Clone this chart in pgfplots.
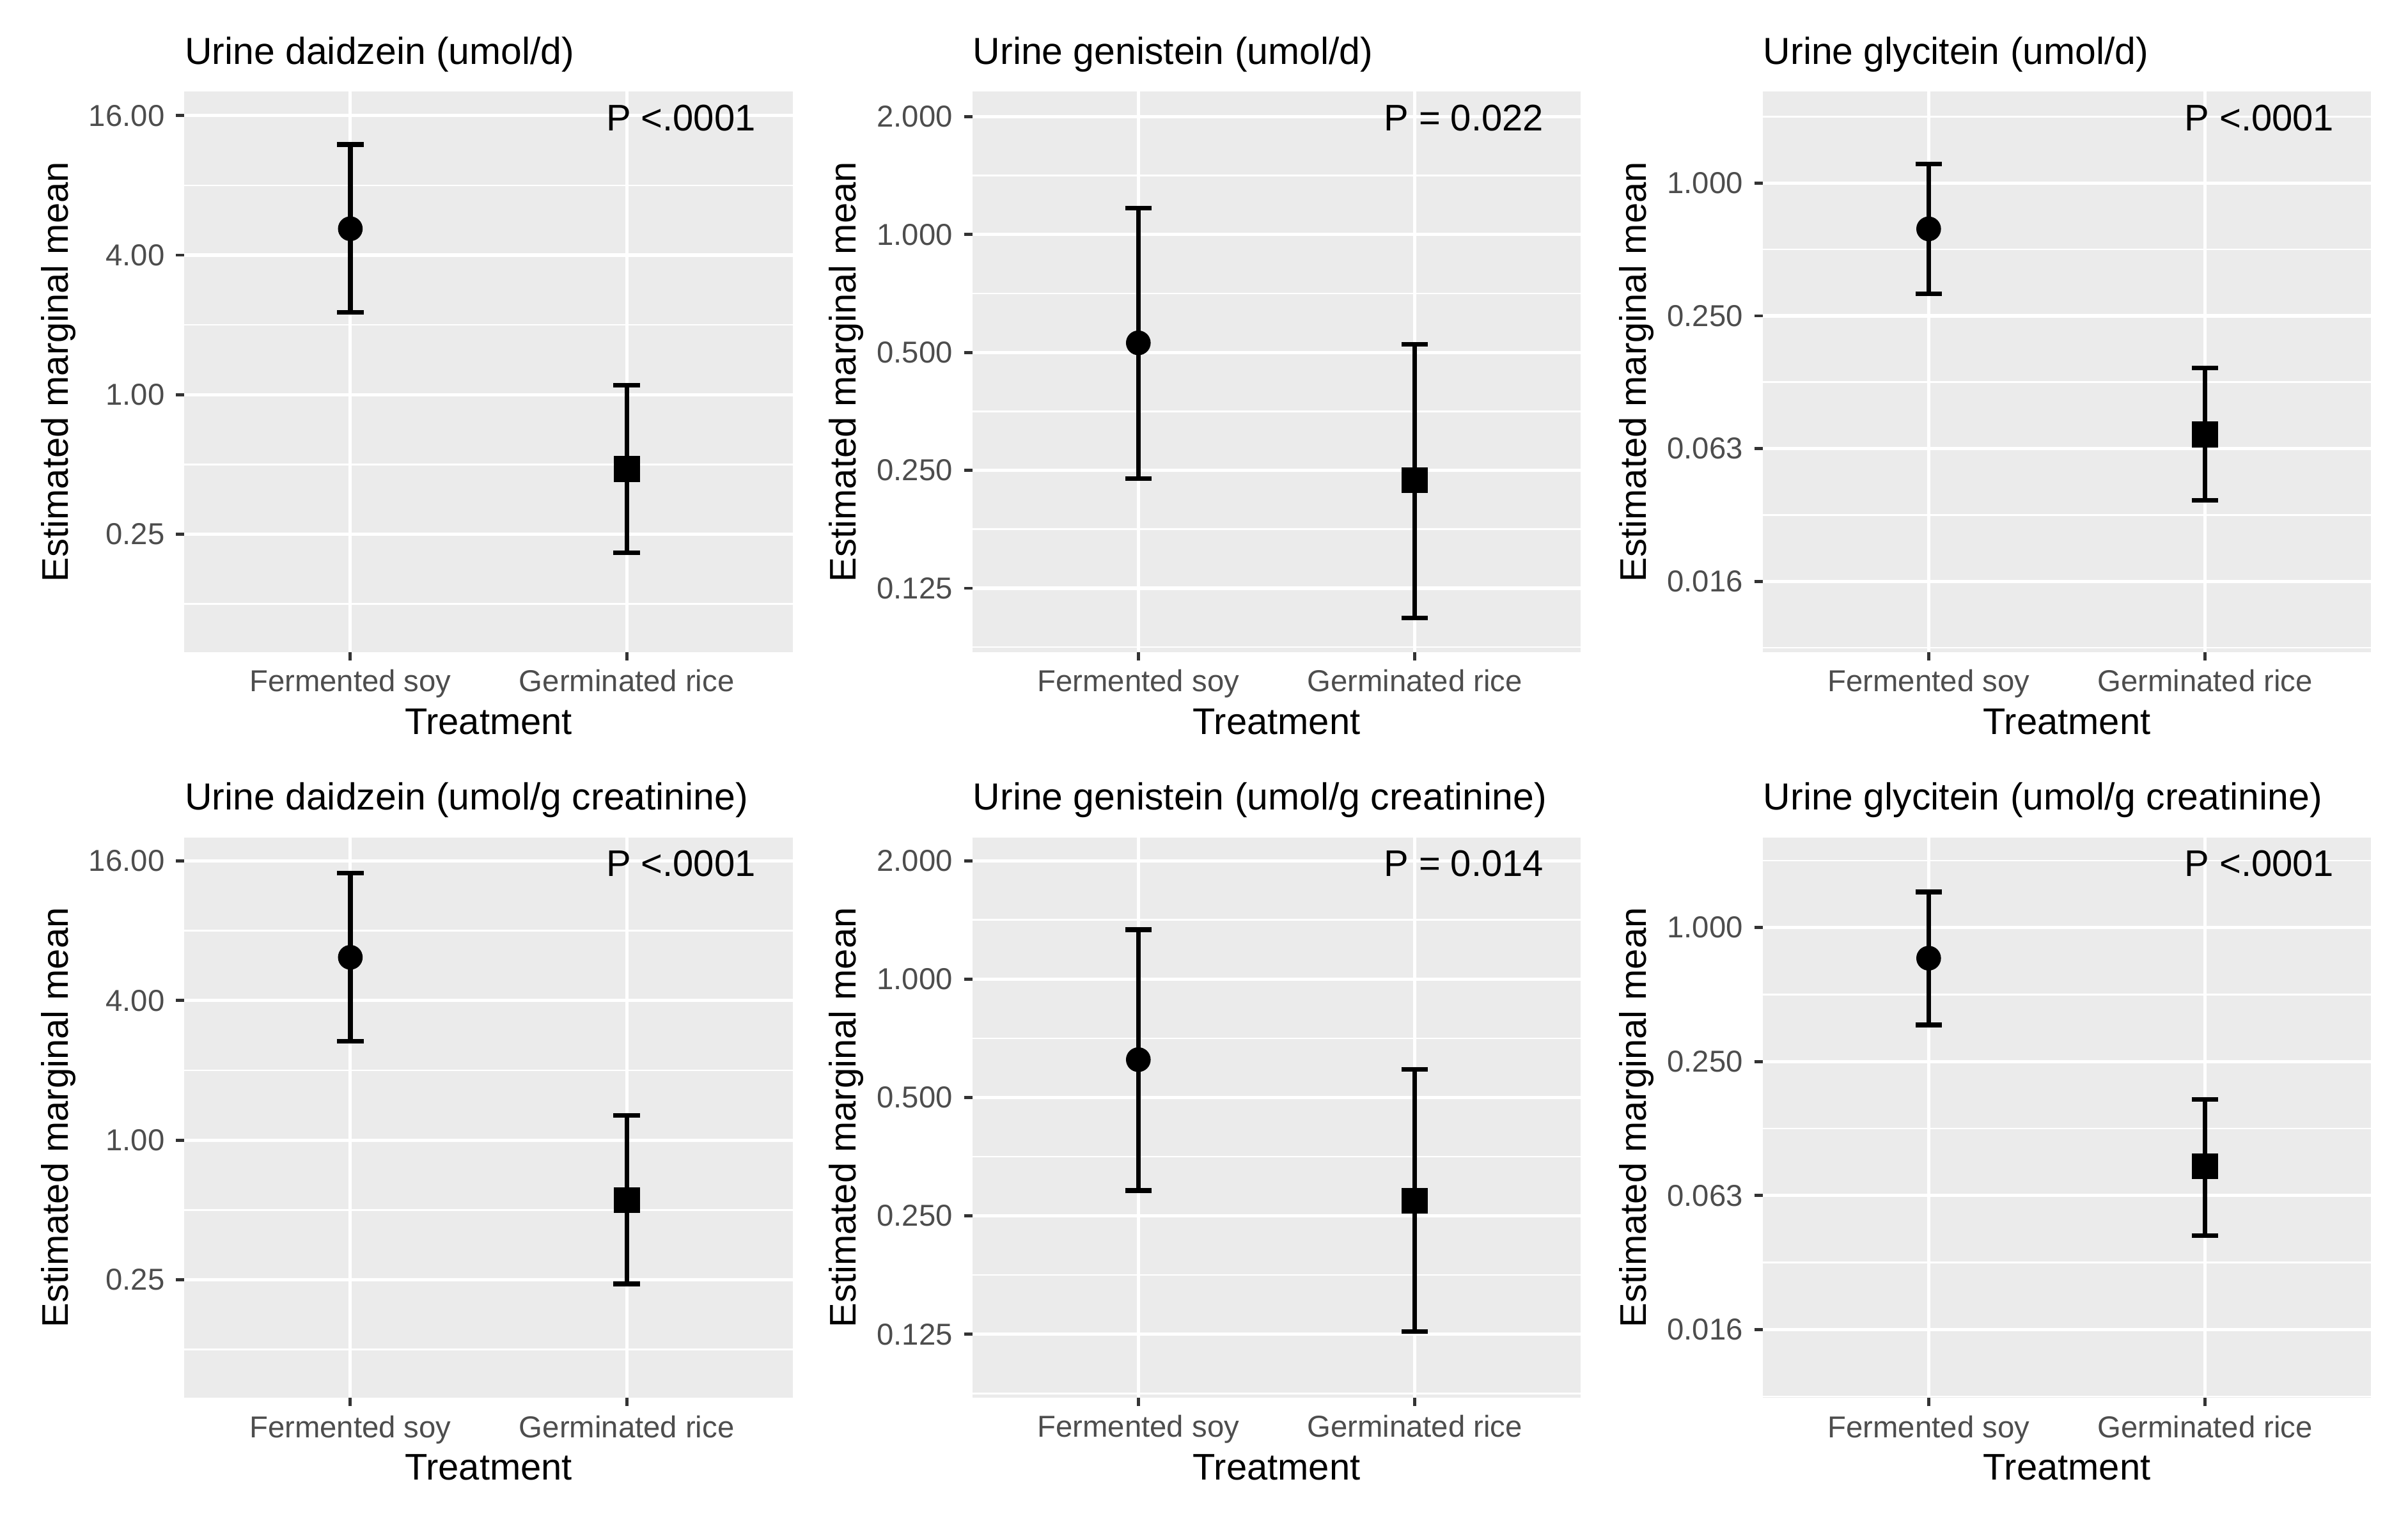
\documentclass[border=0pt]{standalone}
\usepackage{fontspec}
\setmainfont{Liberation Sans}
\usepackage{pgfplots}
\pgfplotsset{compat=1.18}

\definecolor{gg92}{HTML}{EBEBEB}
\definecolor{gg30}{HTML}{4D4D4D}
\definecolor{gg20}{HTML}{333333}

% ggplot-like panel
\pgfplotsset{
  ggpanel/.style={
    scale only axis, width=197pt, height=181.5pt,
    anchor=south west,
    xmin=0.4, xmax=2.6,
    xtick={1,2}, xticklabels={Fermented soy, Germinated rice},
    axis background/.style={fill=gg92},
    axis line style={draw=none},
    tick pos=left, tick align=outside,
    major tick length=2.75pt,
    tick style={gg20, line width=1pt},
    xmajorgrids=true, ymajorgrids=true,
    major grid style={white, line width=1.07pt},
    extra y tick labels={},
    extra y tick style={major tick length=0pt,
      major grid style={white, line width=0.53pt}},
    ticklabel style={font=\fontsize{9.8}{11}\selectfont, text=gg30, inner sep=0pt},
    xticklabel style={anchor=north, yshift=-2.8pt},
    yticklabel style={anchor=east, xshift=-3.5pt},
    xlabel={Treatment}, ylabel={Estimated marginal mean},
    every axis x label/.style={at={(axis description cs:0.5,-0.1245)}, anchor=center,
      font=\fontsize{12}{14}\selectfont},
    every axis y label/.style={at={(axis description cs:-0.2076,0.5)}, rotate=90, anchor=center,
      font=\fontsize{12}{14}\selectfont},
    every axis title/.style={at={(axis description cs:0,1.049)}, anchor=base west, inner sep=0pt,
      font=\fontsize{12.2}{14}\selectfont},
    clip=false,
  },
  ebar/.style={black, line width=1.5pt, mark=none},
  soy/.style={black, only marks, mark=*, mark size=3.8pt},
  rice/.style={black, only marks, mark=square*, mark size=4pt},
}
% interval: left cap x, x, right cap x, lower, upper
\newcommand{\ci}[5]{%
  \addplot[ebar] coordinates {(#2,#4) (#2,#5)};
  \addplot[ebar] coordinates {(#1,#4) (#3,#4)};
  \addplot[ebar] coordinates {(#1,#5) (#3,#5)};}
\newcommand{\pval}[1]{\node[anchor=east, inner sep=0pt, font=\fontsize{12}{14}\selectfont]
  at (rel axis cs:0.94,0.953) {#1};}

\begin{document}
\begin{tikzpicture}
\fill[white] (0,0) rectangle (780pt,491pt);

% ---- row 1: umol/d ----
\begin{axis}[ggpanel, ymode=log, at={(59.75pt,279.8pt)},
  title={Urine daidzein (umol/d)},
  ymin=0.0775, ymax=20.3,
  ytick={0.25,1,4,16}, yticklabels={0.25,1.00,4.00,16.00},
  extra y ticks={0.125,0.5,2,8}]
  \ci{0.952}{1}{1.048}{2.27}{12.0}
  \ci{1.952}{2}{2.048}{0.208}{1.10}
  \addplot[soy] coordinates {(1,5.2)};
  \addplot[rice] coordinates {(2,0.477)};
  \pval{P <.0001}
\end{axis}

\begin{axis}[ggpanel, ymode=log, at={(315pt,279.8pt)},
  title={Urine genistein (umol/d)},
  ymin=0.0859, ymax=2.317,
  ytick={0.125,0.25,0.5,1,2}, yticklabels={0.125,0.250,0.500,1.000,2.000},
  extra y ticks={0.0884,0.1768,0.3536,0.7071,1.4142}]
  \ci{0.952}{1}{1.048}{0.238}{1.168}
  \ci{1.952}{2}{2.048}{0.105}{0.525}
  \addplot[soy] coordinates {(1,0.529)};
  \addplot[rice] coordinates {(2,0.236)};
  \pval{P = 0.022}
\end{axis}

\begin{axis}[ggpanel, ymode=log, at={(571pt,279.8pt)},
  title={Urine glycitein (umol/d)},
  ymin=0.00747, ymax=2.597,
  ytick={0.015625,0.0625,0.25,1}, yticklabels={0.016,0.063,0.250,1.000},
  extra y ticks={0.0078125,0.03125,0.125,0.5,2}]
  \ci{0.952}{1}{1.048}{0.315}{1.22}
  \ci{1.952}{2}{2.048}{0.0364}{0.145}
  \addplot[soy] coordinates {(1,0.620)};
  \addplot[rice] coordinates {(2,0.0723)};
  \pval{P <.0001}
\end{axis}

% ---- row 2: umol/g creatinine ----
\begin{axis}[ggpanel, ymode=log, at={(59.75pt,38.25pt)},
  title={Urine daidzein (umol/g creatinine)},
  ymin=0.0775, ymax=20.2,
  ytick={0.25,1,4,16}, yticklabels={0.25,1.00,4.00,16.00},
  extra y ticks={0.125,0.5,2,8}]
  \ci{0.952}{1}{1.048}{2.67}{14.2}
  \ci{1.952}{2}{2.048}{0.240}{1.28}
  \addplot[soy] coordinates {(1,6.14)};
  \addplot[rice] coordinates {(2,0.551)};
  \pval{P <.0001}
\end{axis}

\begin{axis}[ggpanel, ymode=log, at={(315pt,38.25pt)},
  title={Urine genistein (umol/g creatinine)},
  ymin=0.0862, ymax=2.293,
  ytick={0.125,0.25,0.5,1,2}, yticklabels={0.125,0.250,0.500,1.000,2.000},
  extra y ticks={0.0884,0.1768,0.3536,0.7071,1.4142}]
  \ci{0.952}{1}{1.048}{0.290}{1.336}
  \ci{1.952}{2}{2.048}{0.127}{0.590}
  \addplot[soy] coordinates {(1,0.624)};
  \addplot[rice] coordinates {(2,0.273)};
  \pval{P = 0.014}
\end{axis}

\begin{axis}[ggpanel, ymode=log, at={(571pt,38.25pt)},
  title={Urine glycitein (umol/g creatinine)},
  ymin=0.00772, ymax=2.54,
  ytick={0.015625,0.0625,0.25,1}, yticklabels={0.016,0.063,0.250,1.000},
  extra y ticks={0.0078125,0.03125,0.125,0.5,2}]
  \ci{0.952}{1}{1.048}{0.365}{1.445}
  \ci{1.952}{2}{2.048}{0.0413}{0.169}
  \addplot[soy] coordinates {(1,0.728)};
  \addplot[rice] coordinates {(2,0.0846)};
  \pval{P <.0001}
\end{axis}
\end{tikzpicture}
\end{document}
